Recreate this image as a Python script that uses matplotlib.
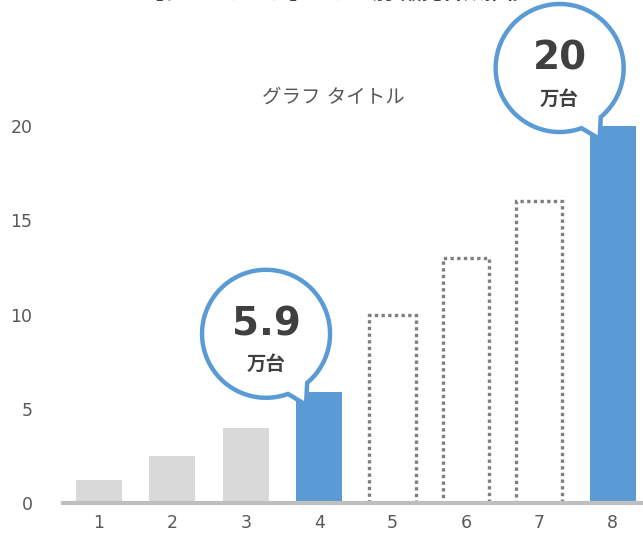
import matplotlib
matplotlib.use("Agg")
import matplotlib.pyplot as plt
import numpy as np
from matplotlib.patches import Polygon
from matplotlib.transforms import IdentityTransform

plt.rcParams["font.family"] = ["DejaVu Sans", "Noto Sans CJK JP"]

categories = ["1", "2", "3", "4", "5", "6", "7", "8"]
values = [1.2, 2.5, 4.0, 5.9, 10, 13, 16, 20]
# kind of each bar: past (grey), highlighted (blue), forecast (dotted outline)
kinds = ["past", "past", "past", "hi", "plan", "plan", "plan", "hi"]
callouts = {3: ("5.9", "万台"), 7: ("20", "万台")}
yticks = [0, 5, 10, 15, 20]

GREY = "#d9d9d9"
BLUE = "#5b9bd5"
DOT = "#7f7f7f"
TXT = "#595959"

fig = plt.figure(figsize=(6.43, 5.34), dpi=100)
W, H = 643, 534
# axes placed so that baseline sits at y=503px and bars are 73.4px apart
ax = fig.add_axes([63 / W, 31 / H, (73.4 * 8) / W, 414.7 / H])
ax.set_xlim(0.51, 8.51)
ax.set_ylim(0, 22)

x = np.arange(1, len(values) + 1)
bw = 0.63
for xi, v, k in zip(x, values, kinds):
    if k == "past":
        ax.bar(xi, v, width=bw, color=GREY, zorder=2)
    elif k == "hi":
        ax.bar(xi, v, width=bw, color=BLUE, zorder=2)
    else:
        ax.bar(xi, v, width=bw, facecolor="none", edgecolor=DOT,
               linestyle=(0, (1, 1)), linewidth=2.4, zorder=2)

for s in ["top", "right", "left"]:
    ax.spines[s].set_visible(False)
ax.spines["bottom"].set_color("#bfbfbf")
ax.spines["bottom"].set_linewidth(3)
ax.spines["bottom"].set_zorder(3)

ax.set_xticks(x)
ax.set_xticklabels(categories)
ax.set_yticks(yticks)
ax.set_yticklabels([str(t) for t in yticks])
ax.tick_params(axis="both", length=0, labelsize=12.5, colors=TXT)
ax.tick_params(axis="y", pad=22)
ax.tick_params(axis="x", pad=8)

fig.text(333 / W, 1 - 97 / H, "グラフ タイトル", ha="center", va="center",
         fontsize=14, color=TXT)
# main title, almost fully cut off by the top edge (as in the source image)
fig.text(334 / W, 1 + 1 / H, "【ダミーデータ】モデル別 販売台数推移", ha="center",
         va="baseline", fontsize=15, fontweight="bold", color="#404040")

# speech bubbles anchored to the bar tops (drawn in pixel space)
fig.canvas.draw()
r = 64
for i, (big, unit) in callouts.items():
    tx, ty = ax.transData.transform((x[i] - bw / 2, values[i]))
    tip = np.array([tx + 10, ty - 13])
    c = tip + np.array([-40, 71])
    ang = np.radians(np.linspace(-50, 290, 120))
    pts = np.column_stack([c[0] + r * np.cos(ang), c[1] + r * np.sin(ang)])
    pts = np.vstack([pts, tip])
    poly = Polygon(pts, closed=True, facecolor="white", edgecolor=BLUE,
                   linewidth=3.2, transform=IdentityTransform(), zorder=5)
    fig.add_artist(poly)
    fig.text(c[0] / W, (c[1] + 9) / H, big, ha="center", va="center",
             fontsize=28, fontweight="bold", color="#404040", zorder=6)
    fig.text(c[0] / W, (c[1] - 31) / H, unit, ha="center", va="center",
             fontsize=14, fontweight="bold", color="#404040",
             family="Noto Sans CJK JP", zorder=6)

fig.savefig("out.png", dpi=100)
